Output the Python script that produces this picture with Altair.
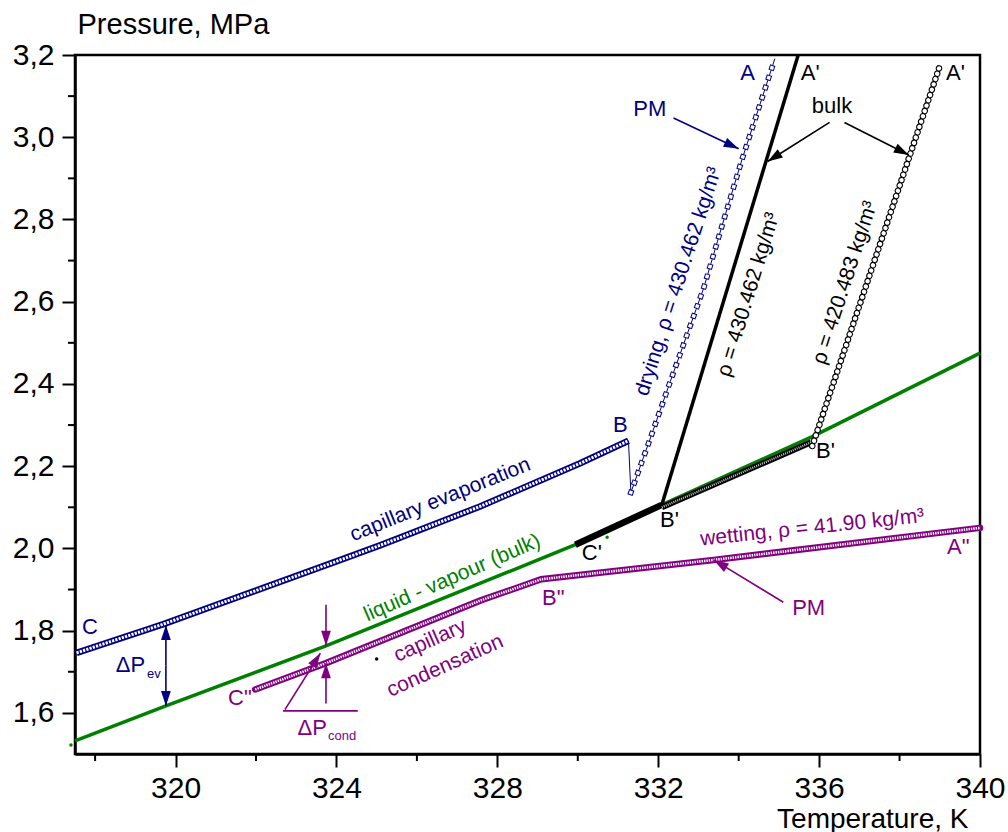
import math
import altair as alt
import pandas as pd

# ---------------- data (T in K, P in MPa) ----------------
# liquid - vapour coexistence (bulk), green
lv_T = [317.5, 319.76, 323.74, 329.94, 332.09, 335.83, 340.0]
lv_P = [1.532, 1.617, 1.763, 2.009, 2.106, 2.272, 2.475]

# capillary evaporation, blue squares, C -> B
ev_T = [317.54, 319.7, 324.1, 325.1, 327.57, 330.06, 331.26]
ev_P = [1.746, 1.816, 1.972, 2.008, 2.102, 2.207, 2.262]

# drop from B to start of drying (thin blue line)
drop_T = [331.26, 331.32]
drop_P = [2.262, 2.136]

# drying, rho = 430.462 kg/m3, blue squares, bottom -> A
dry_T = [331.32, 331.79, 332.30, 333.13, 333.63, 334.08, 334.90]
dry_P = [2.136, 2.264, 2.406, 2.633, 2.799, 2.945, 3.191]

# bulk rho = 430.462 kg/m3, black: C' -> B' (thick), B' -> A'
bc_T = [329.94, 332.09]
bc_P = [2.009, 2.106]
b1_T = [332.09, 335.48]
b1_P = [2.106, 3.200]

# bulk rho = 420.483 kg/m3, open circles: B' -> B' (along coexistence), B' -> A'
b2low_T = [332.09, 335.80]
b2low_P = [2.100, 2.258]
b2_T = [335.83, 339.02]
b2_P = [2.249, 3.179]

# wetting rho = 41.90 kg/m3, purple circles: C'' -> B'' -> A''
wet_T = [321.98, 323.74, 327.57, 328.42, 329.09, 333.38, 340.0]
wet_P = [1.657, 1.721, 1.873, 1.902, 1.925, 1.972, 2.050]

# stray dots
dot_T = [317.40, 330.73, 325.0]
dot_P = [1.522, 2.027, 1.731]
dot_C = ["#008000", "#008000", "#000000"]

# axis ticks
x_major = [320, 324, 328, 332, 336, 340]
x_minor = [318, 322, 326, 330, 334, 338]
y_major = [1.6, 1.8, 2.0, 2.2, 2.4, 2.6, 2.8, 3.0, 3.2]
y_minor = [1.7, 1.9, 2.1, 2.3, 2.5, 2.7, 2.9, 3.1]

BLUE, PURPLE, GREEN, BLACK = "#000080", "#800080", "#008000", "#000000"

# annotation texts: text, T, P, angle (deg), colour, font size
lab_text = ["A", "A'", "A'", "PM", "bulk", "B", "B'", "B'", "C'", 'A"', "PM", 'B"', 'C"', "C",
            "ΔP", "ev", "ΔP", "cond",
            "drying, ρ = 430.462 kg/m³", "ρ = 430.462 kg/m³", "ρ = 420.483 kg/m³",
            "wetting, ρ = 41.90 kg/m³", "capillary evaporation", "liquid - vapour (bulk)",
            "capillary", "condensation"]
lab_T = [334.22, 335.78, 339.39, 331.79, 336.32, 331.06, 332.28, 336.16, 330.35, 339.46, 335.74, 329.39, 321.60, 317.87,
         318.88, 319.46, 323.40, 324.14,
         332.51, 334.25, 336.65,
         335.83, 326.58, 326.88,
         326.33, 326.70]
lab_P = [3.157, 3.157, 3.157, 3.069, 3.075, 2.300, 2.069, 2.236, 1.988, 2.004, 1.854, 1.880, 1.636, 1.810,
         1.717, 1.694, 1.563, 1.544,
         2.649, 2.617, 2.646,
         2.050, 2.118, 1.928,
         1.775, 1.714]
lab_ang = [0] * 18 + [-72, -73, -72, -6, -22, -23.5, -24, -24]
lab_col = [BLUE, BLACK, BLACK, BLUE, BLACK, BLUE, BLACK, BLACK, BLACK, PURPLE, PURPLE, PURPLE, PURPLE, BLUE,
           BLUE, BLUE, PURPLE, PURPLE,
           BLUE, BLACK, BLACK,
           PURPLE, BLUE, GREEN,
           PURPLE, PURPLE]
lab_size = [22] * 14 + [22, 13, 22, 13] + [21] * 8

# arrows: from (T0, P0) to tip (T1, P1)
arr_T0 = [332.38, 336.26, 336.63, 335.11, 319.76, 319.76, 323.74, 323.74, 322.72]
arr_P0 = [3.047, 3.036, 3.036, 1.869, 1.7155, 1.7155, 1.863, 1.623, 1.608]
arr_T1 = [334.00, 334.72, 338.23, 333.38, 319.76, 319.76, 323.74, 323.74, 323.60]
arr_P1 = [2.972, 2.941, 2.957, 1.972, 1.814, 1.617, 1.763, 1.721, 1.745]
arr_C = [BLUE, BLACK, BLACK, PURPLE, BLUE, BLUE, PURPLE, PURPLE, PURPLE]

# plain segment (base of the ΔP_cond sketch)
seg_T0, seg_P0, seg_T1, seg_P1 = [322.67], [1.605], [324.53], [1.605]

# ---------------- chart ----------------
W, H = 905, 699
X_DOM = [317.5, 340.0]
Y_DOM = [1.5, 3.2]
FONT = "Liberation Sans, Arial, Helvetica, sans-serif"

xs = alt.Scale(domain=X_DOM, nice=False, zero=False)
ys = alt.Scale(domain=Y_DOM, nice=False, zero=False)

x_axis = alt.Axis(
    values=x_major, format="d", title="Temperature, K",
    titleX=893, titleY=73, titleAlign="right", titleBaseline="alphabetic", titleAngle=0,
    titleFontSize=28, labelBaseline="alphabetic", labelPadding=30,
)
y_axis = alt.Axis(
    values=y_major, labelExpr="replace(format(datum.value, '.1f'), '.', ',')",
    title="Pressure, MPa", titleX=2, titleY=-22, titleAlign="left", titleBaseline="alphabetic",
    titleAngle=0, titleFontSize=29, labelPadding=8, labelBaseline="middle",
)


def X(f):
    return alt.X(f"{f}:Q", scale=xs, axis=x_axis)


def Y(f):
    return alt.Y(f"{f}:Q", scale=ys, axis=y_axis)


def series(T, P):
    return pd.DataFrame({"T": T, "P": P, "i": list(range(len(T)))})


def line(T, P, **mk):
    return alt.Chart(series(T, P)).mark_line(**mk).encode(x=X("T"), y=Y("P"), order="i:Q")


layers = []

# coexistence line (green)
layers.append(line(lv_T, lv_P, color=GREEN, strokeWidth=3.5))

# minor ticks
layers.append(alt.Chart(pd.DataFrame({"T": x_minor})).mark_rule(color=BLACK, strokeWidth=2).encode(
    x=X("T"), y=alt.value(H), y2=alt.value(H + 7)))
layers.append(alt.Chart(pd.DataFrame({"P": y_minor})).mark_rule(color=BLACK, strokeWidth=2).encode(
    y=Y("P"), x=alt.value(0), x2=alt.value(-7)))

# bulk 430.462 black
layers.append(line(bc_T, bc_P, color=BLACK, strokeWidth=6.5, strokeCap="butt"))
layers.append(line(b1_T, b1_P, color=BLACK, strokeWidth=3.5, strokeCap="butt"))

# bulk 420.483 circles
layers.append(line(b2low_T, b2low_P, color=BLACK, strokeWidth=6))
layers.append(line(b2low_T, b2low_P, color="white", strokeWidth=2.2, strokeDash=[1.0, 1.1], opacity=0.8))
layers.append(line(b2_T, b2_P, color=BLACK, strokeWidth=6.5, strokeDash=[0.01, 5.6], strokeCap="round"))
layers.append(line(b2_T, b2_P, color="white", strokeWidth=4.3, strokeDash=[0.01, 5.6], strokeCap="round"))

# capillary evaporation squares (dense)
layers.append(line(ev_T, ev_P, color=BLUE, strokeWidth=6.5, strokeCap="butt"))
layers.append(line(ev_T, ev_P, color="white", strokeWidth=3.0, strokeDash=[2.2, 1.2], strokeCap="butt"))

# drop B -> drying + drying squares
layers.append(line(drop_T, drop_P, color=BLUE, strokeWidth=1))
layers.append(line(dry_T, dry_P, color=BLUE, strokeWidth=1))
layers.append(line(dry_T, dry_P, color=BLUE, strokeWidth=5.5, strokeDash=[0.01, 10.4], strokeCap="square"))
layers.append(line(dry_T, dry_P, color="white", strokeWidth=3.5, strokeDash=[0.01, 10.4], strokeCap="square"))

# wetting / capillary condensation circles (dense)
layers.append(line(wet_T, wet_P, color=PURPLE, strokeWidth=6.5, strokeCap="round"))
layers.append(line(wet_T, wet_P, color="white", strokeWidth=2.6, strokeDash=[1.4, 1.0], strokeCap="butt"))

# stray dots
layers.append(alt.Chart(pd.DataFrame({"T": dot_T, "P": dot_P, "c": dot_C})).mark_circle(size=12, opacity=1).encode(
    x=X("T"), y=Y("P"), color=alt.Color("c:N", scale=None)))

# arrows
kx = W / (X_DOM[1] - X_DOM[0])
ky = H / (Y_DOM[1] - Y_DOM[0])
arr_ang = []
for t0, p0, t1, p1 in zip(arr_T0, arr_P0, arr_T1, arr_P1):
    dx = (t1 - t0) * kx
    dy = -(p1 - p0) * ky
    arr_ang.append(math.degrees(math.atan2(dx, -dy)) % 360)
arr_df = pd.DataFrame({"T0": arr_T0, "P0": arr_P0, "T1": arr_T1, "P1": arr_P1, "c": arr_C, "ang": arr_ang})

layers.append(alt.Chart(arr_df).mark_rule(strokeWidth=1.6).encode(
    x=X("T0"), y=Y("P0"), x2="T1:Q", y2="P1:Q", color=alt.Color("c:N", scale=None)))
layers.append(alt.Chart(arr_df).mark_point(
    shape="M0,0L0.65,2L-0.65,2Z", filled=True, opacity=1, size=225, strokeWidth=0).encode(
    x=X("T1"), y=Y("P1"), angle=alt.Angle("ang:Q", scale=None), color=alt.Color("c:N", scale=None)))

seg_df = pd.DataFrame({"T0": seg_T0, "P0": seg_P0, "T1": seg_T1, "P1": seg_P1})
layers.append(alt.Chart(seg_df).mark_rule(strokeWidth=1.6, color=PURPLE).encode(
    x=X("T0"), y=Y("P0"), x2="T1:Q", y2="P1:Q"))

# texts
lab_df = pd.DataFrame({"text": lab_text, "T": lab_T, "P": lab_P,
                       "ang": [a % 360 for a in lab_ang], "c": lab_col, "s": lab_size})
layers.append(alt.Chart(lab_df).mark_text(font=FONT, align="center", baseline="middle").encode(
    x=X("T"), y=Y("P"), text="text:N", angle=alt.Angle("ang:Q", scale=None),
    color=alt.Color("c:N", scale=None), size=alt.Size("s:Q", scale=None)))

chart = alt.layer(*layers).properties(
    width=W, height=H,
    padding={"left": 75, "top": 55, "right": 1008 - 75 - W, "bottom": 832 - 55 - H},
    autosize=alt.AutoSizeParams(type="none"),
    background="white",
).configure_view(
    stroke=BLACK, strokeWidth=2.5,
).configure_axis(
    domainColor=BLACK, domainWidth=2.5, tickColor=BLACK, tickWidth=2, tickSize=13,
    labelFont=FONT, labelFontSize=30, labelColor=BLACK, titleFont=FONT,
    titleFontWeight="normal", titleColor=BLACK, grid=False, labelFlush=False, labelOverlap=False,
)

chart.save("out.html", embed_options={"renderer": "svg", "actions": False})
